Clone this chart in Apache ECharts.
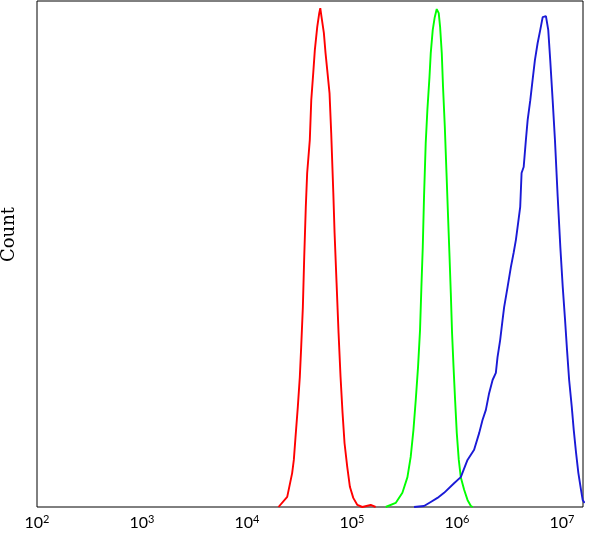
<!DOCTYPE html>
<html>
<head>
<meta charset="utf-8">
<script src="https://cdn.jsdelivr.net/npm/echarts@6/dist/echarts.min.js"></script>
<style>html,body{margin:0;padding:0;background:#fff;}#c{width:589px;height:534px;}</style>
</head>
<body>
<div id="c"></div>
<script>
// x values are log10 of fluorescence intensity; y values are counts (% of max)
const tickExponents = [2, 3, 4, 5, 6, 7];

const redX = [4.300,4.319,4.383,4.430,4.446,4.462,4.484,4.503,4.516,4.532,4.545,4.560,4.573,4.598,4.612,4.631,4.646,4.669,4.688,4.698,4.710,4.732,4.748,4.764,4.786,4.802,4.822,4.834,4.853,4.872,4.891,4.910,4.929,4.955,4.980,5.012,5.051,5.098,5.178,5.225];
const redY = [0,0.2,2.0,6.7,9.3,13.8,19.8,25.7,31.6,39.5,49.4,59.3,66.0,72.5,80.4,85.8,90.3,94.9,97.6,98.6,96.8,93.7,89.7,86.4,81.8,73.9,62.1,54.2,44.3,34.4,25.7,18.6,12.6,7.9,4.0,1.8,0.4,0,0.4,0];

const greenX = [5.321,5.416,5.480,5.528,5.559,5.585,5.607,5.629,5.648,5.661,5.674,5.686,5.702,5.718,5.738,5.750,5.769,5.788,5.807,5.826,5.839,5.855,5.867,5.884,5.900,5.915,5.929,5.941,5.953,5.967,5.982,5.998,6.017,6.036,6.068,6.100,6.132,6.151];
const greenY = [0,0.8,2.8,5.9,9.9,15.2,21.1,27.7,35.0,43.5,51.4,61.3,71.9,78.5,85.0,89.7,94.3,96.8,98.4,97.6,94.9,89.7,83.0,75.1,66.0,57.3,49.4,42.3,34.4,27.7,21.1,14.6,9.3,5.9,3.4,1.4,0.2,0];

const blueX = [5.591,5.686,5.750,5.814,5.877,5.972,6.036,6.100,6.163,6.211,6.243,6.275,6.306,6.339,6.370,6.386,6.411,6.434,6.449,6.482,6.513,6.539,6.561,6.577,6.602,6.615,6.635,6.656,6.673,6.698,6.720,6.742,6.768,6.793,6.816,6.828,6.847,6.869,6.888,6.911,6.933,6.959,6.984,7.007,7.029,7.048,7.068,7.093,7.112,7.134,7.156,7.181,7.197,7.215];
const blueY = [0,0.2,1.0,1.8,2.8,4.7,5.9,9.3,11.3,14.6,17.2,19.2,22.5,25.1,26.5,29.6,33.0,37.0,39.5,43.5,47.4,50.2,52.8,55.3,59.3,66.0,67.2,72.5,76.5,80.4,84.4,88.3,91.7,94.3,96.8,97.0,97.0,94.3,88.3,80.4,72.5,61.3,51.4,43.5,37.0,31.0,25.1,19.8,15.2,10.7,6.7,3.4,1.4,0.8];

const zip = (xs, ys) => xs.map((x, i) => [x, ys[i]]);

const chart = echarts.init(document.getElementById('c'), null, {renderer: 'canvas'});
const mk = (name, xs, ys, color) => ({
  name: name, type: 'line', showSymbol: false, symbol: 'none',
  data: zip(xs, ys), lineStyle: {color: color, width: 1.9}, clip: true
});
chart.setOption({
  animation: false,
  backgroundColor: '#fff',
  grid: {left: 37, right: 6, top: 1, bottom: 27, show: true, borderColor: '#000', borderWidth: 1, containLabel: false, outerBoundsMode: 'none'},
  xAxis: {
    type: 'value', min: 2, max: 7.2, interval: 1,
    axisLine: {show: false}, axisTick: {show: false}, splitLine: {show: false},
    axisLabel: {
      margin: 7, showMaxLabel: false,
      formatter: v => tickExponents.includes(Math.round(v)) && Math.abs(v - Math.round(v)) < 1e-6 ? '{b|10}{s|' + Math.round(v) + '}' : '',
      rich: {
        b: {fontFamily: 'Lato', fontSize: 16, color: '#000', lineHeight: 17},
        s: {fontFamily: 'Lato', fontSize: 11, color: '#000', verticalAlign: 'top', lineHeight: 11}
      }
    }
  },
  yAxis: {
    type: 'value', min: 0, max: 100,
    axisLine: {show: false}, axisTick: {show: false}, splitLine: {show: false}, axisLabel: {show: false},
    name: 'Count', nameLocation: 'middle', nameGap: 19, nameRotate: 90,
    nameTextStyle: {fontFamily: 'DejaVu Serif', fontSize: 18, color: '#000', padding: [0, 0, 0, 39]}
  },
  series: [
    mk('red', redX, redY, '#ff0000'),
    mk('green', greenX, greenY, '#00ff00'),
    mk('blue', blueX, blueY, '#1a1ad6')
  ]
});
</script>
</body>
</html>
